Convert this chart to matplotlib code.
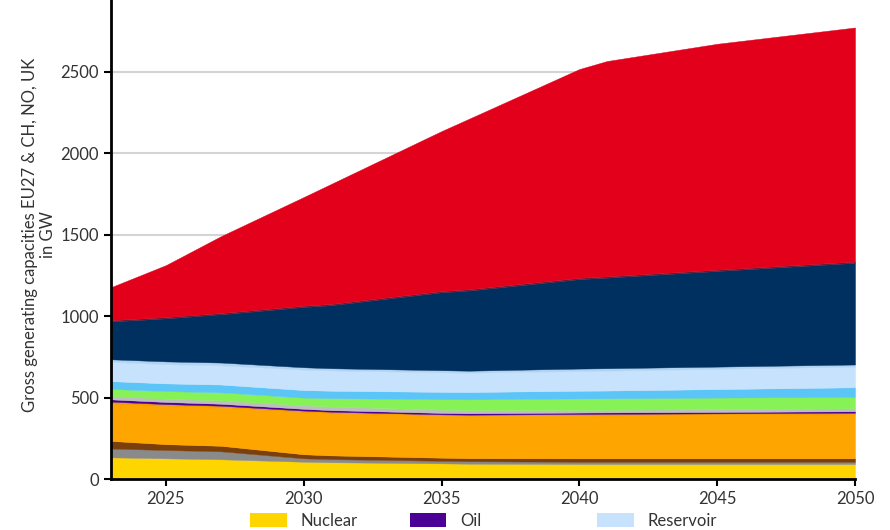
import numpy as np
import matplotlib
matplotlib.use('Agg')
import matplotlib.pyplot as plt
from matplotlib.patches import Patch

plt.rcParams['font.family'] = ['Lato', 'DejaVu Sans']

# Years
years = [2023, 2025, 2027, 2030, 2031, 2035, 2036, 2040, 2041, 2045, 2050]

# Capacities per technology in GW (stacked bottom-up)
nuclear = [133, 127, 121, 106, 103, 96, 94, 92, 92, 92, 92]
hard_coal = [54, 51, 49, 21, 19, 16, 15, 14, 14, 14, 14]
lignite = [47, 36, 34, 25, 23, 19, 19, 21, 21, 21, 21]
gas = [226, 233, 234, 256, 257, 256, 257, 262, 263, 266, 270]
hydrogen = [15, 13, 12, 12, 11, 10, 10, 10, 10, 10, 10]
oil = [14, 13, 12, 11, 10, 9, 9, 9, 9, 9, 9]
other = [21, 20, 21, 22, 22, 20, 19, 16, 16, 17, 18]
biomass = [43, 47, 49, 47, 52, 64, 66, 71, 71, 71, 71]
run_of_river = [48, 47, 48, 46, 45, 45, 45, 47, 47, 52, 58]
reservoir = [119, 118, 118, 126, 125, 120, 119, 121, 122, 125, 127]
pump_storage = [15, 17, 17, 14, 13, 13, 12, 15, 15, 13, 13]
wind_onshore = [232, 264, 296, 370, 387, 478, 492, 549, 556, 587, 624]
wind_offshore = [8, 8, 8, 8, 8, 8, 8, 8, 8, 8, 8]
solar = [202, 319, 472, 667, 737, 982, 1047, 1282, 1322, 1387, 1437]

labels = ['Nuclear', 'Hard coal', 'Lignite', 'Gas', 'Hydrogen', 'Oil',
          'Other', 'Biomass', 'Run-of-river', 'Reservoir',
          'Pump storage', 'Wind onshore', 'Wind offshore', 'Solar']
colors = ['#FFD500', '#8A8A8A', '#7A3F0A', '#FFA500', '#F59C00', '#4B0096',
          '#BEBEBE', '#86F255', '#5BC5F7', '#C6E2FC', '#B2D4F2', '#003060',
          '#55203F', '#E2001A']
series = [nuclear, hard_coal, lignite, gas, hydrogen, oil, other,
          biomass, run_of_river, reservoir, pump_storage, wind_onshore,
          wind_offshore, solar]

fig = plt.figure(figsize=(8.9, 5.3), dpi=100)
ax = fig.add_axes([0.1244, 0.0962, 0.8363, 0.922])

ax.stackplot(years, *series, colors=colors, labels=labels,
             linewidth=0.3, edgecolor='face', zorder=2)

ax.set_xlim(2023, 2050)
ax.set_ylim(0, 3000)
ax.set_xticks(range(2025, 2051, 5))
ax.set_yticks(range(0, 2501, 500))
ax.yaxis.grid(True, color='#d4d4d4', linewidth=1.5, zorder=0)
ax.set_axisbelow(True)

for side in ('top', 'right'):
    ax.spines[side].set_visible(False)
for side in ('left', 'bottom'):
    ax.spines[side].set_linewidth(2)
    ax.spines[side].set_color('black')
    ax.spines[side].set_zorder(5)

ax.tick_params(axis='both', labelsize=12, labelcolor='#333333',
               length=5, width=1.5, color='black', direction='out')
ax.set_ylabel('Gross generating capacities EU27 & CH, NO, UK\nin GW',
              fontsize=12, color='#333333', labelpad=3)

# legend is filled column by column; only the first row fits in the figure
handles = {lab: Patch(facecolor=c) for lab, c in zip(labels, colors)}
order = ['Nuclear', 'Hard coal', 'Lignite', 'Gas', 'Hydrogen',
         'Oil', 'Other', 'Biomass', 'Run-of-river', 'Pump storage',
         'Reservoir', 'Wind onshore', 'Wind offshore', 'Solar']
fig.legend([handles[o] for o in order], order, ncol=3, frameon=False,
           loc='upper left', bbox_to_anchor=(0.272, 0.048),
           fontsize=12, labelcolor='#333333',
           handlelength=2.2, handleheight=0.95, handletextpad=0.8,
           columnspacing=2.2, borderpad=0)

fig.savefig('out.png', dpi=100)
